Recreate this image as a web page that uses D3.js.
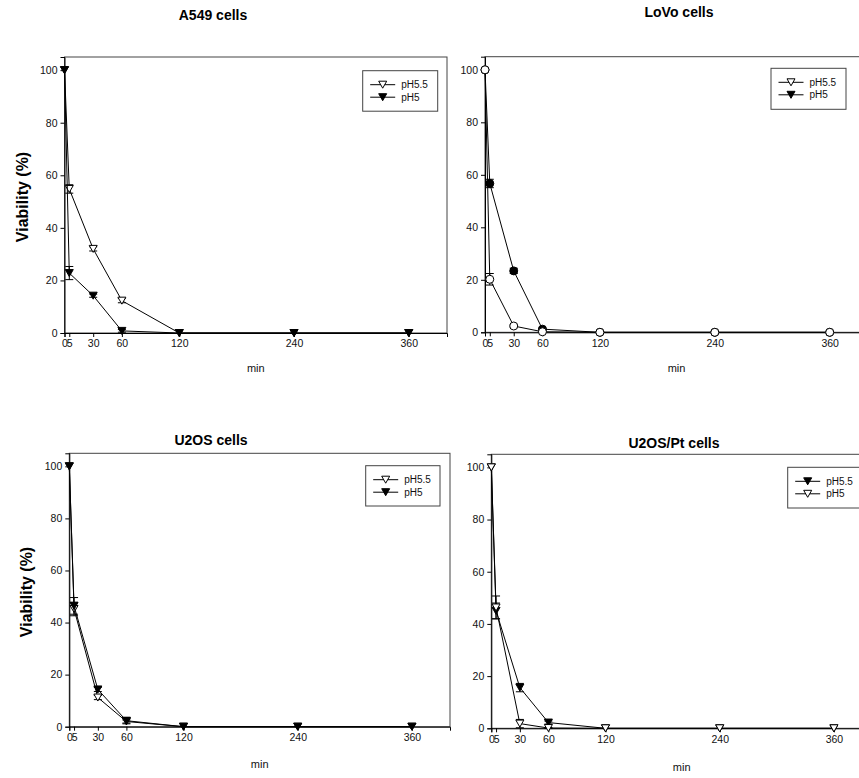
<!DOCTYPE html>
<html>
<head>
<meta charset="utf-8">
<script src="https://cdn.jsdelivr.net/npm/d3@7"></script>
<style>
  body { margin: 0; background: #fff; }
  svg text { font-family: "Liberation Sans", Arial, sans-serif; }
</style>
</head>
<body>
<svg id="chart" width="859" height="778"></svg>
<script>
// time points (min)
var times = [0, 5, 30, 60, 120, 240, 360];
var xTicks = [0, 5, 30, 60, 120, 240, 360];
var yTicks = [0, 20, 40, 60, 80, 100];

// A549
var a549_pH55 = [100, 54.8, 32, 12.3, 0, 0, 0];
var a549_pH55_err = [0, 1.6, 0.8, 0.8, 0, 0, 0];
var a549_pH5 = [100, 22.8, 14.2, 0.8, 0, 0, 0];
var a549_pH5_err = [0, 2.5, 0.6, 0.5, 0, 0, 0];

// LoVo
var lovo_pH55 = [100, 20.2, 2.4, 0.2, 0, 0, 0];
var lovo_pH55_err = [0, 2.2, 0.5, 0.2, 0, 0, 0];
var lovo_pH5 = [100, 56.7, 23.4, 1.2, 0, 0, 0];
var lovo_pH5_err = [0, 1.6, 1.0, 0.4, 0, 0, 0];

// U2OS
var u2os_pH55 = [100, 45.2, 11.2, 2.0, 0, 0, 0];
var u2os_pH55_err = [0, 2.6, 0.8, 0.6, 0, 0, 0];
var u2os_pH5 = [100, 46.4, 14.3, 2.3, 0, 0, 0];
var u2os_pH5_err = [0, 3.2, 0.8, 1.2, 0, 0, 0];

// U2OS/Pt
var pt_pH55 = [100, 45, 15.6, 2.2, 0, 0, 0];
var pt_pH55_err = [0, 3.0, 1.6, 0.6, 0, 0, 0];
var pt_pH5 = [100, 46.3, 1.8, 0.1, 0, 0, 0];
var pt_pH5_err = [0, 4.4, 1.6, 0.2, 0, 0, 0];

var svg = d3.select("#chart");

// panel layout
var panels = [
  {title: "A549 cells", left: 64.5, top: 57, right: 447, bottom: 333, titleX: 213, titleY: 20, ylab: true, minY: 372,
   legend: {x: 362.7, y: 70.7, w: 75, h: 40.5},
   series: [
     {name: "pH5.5", vals: a549_pH55, err: a549_pH55_err, shape: "tri", fill: "#fff"},
     {name: "pH5", vals: a549_pH5, err: a549_pH5_err, shape: "tri", fill: "#000"}
   ]},
  {title: "LoVo cells", left: 485, top: 56.7, right: 868, bottom: 332.3, titleX: 679, titleY: 17, ylab: false, minY: 372,
   legend: {x: 771, y: 68.3, w: 75, h: 41},
   series: [
     {name: "pH5", vals: lovo_pH5, err: lovo_pH5_err, shape: "circle", fill: "#000"},
     {name: "pH5.5", vals: lovo_pH55, err: lovo_pH55_err, shape: "circle", fill: "#fff"}
   ],
   legendItems: [{name: "pH5.5", fill: "#fff"}, {name: "pH5", fill: "#000"}]},
  {title: "U2OS cells", left: 69.3, top: 453.3, right: 450, bottom: 726.7, titleX: 211, titleY: 445, ylab: true, minY: 768,
   legend: {x: 365.7, y: 465.7, w: 74.3, h: 40.3},
   series: [
     {name: "pH5.5", vals: u2os_pH55, err: u2os_pH55_err, shape: "tri", fill: "#fff"},
     {name: "pH5", vals: u2os_pH5, err: u2os_pH5_err, shape: "tri", fill: "#000"}
   ]},
  {title: "U2OS/Pt cells", left: 491.3, top: 454.3, right: 872, bottom: 728.3, titleX: 674, titleY: 448, ylab: false, minY: 771,
   legend: {x: 787.7, y: 467.3, w: 75, h: 40.7},
   series: [
     {name: "pH5.5", vals: pt_pH55, err: pt_pH55_err, shape: "tri", fill: "#000"},
     {name: "pH5", vals: pt_pH5, err: pt_pH5_err, shape: "tri", fill: "#fff"}
   ]}
];

var triPath = "M-4,-3.5L4,-3.5L0,3.5Z";

function drawMarker(g, shape, fill) {
  if (shape === "circle") {
    return g.append("circle").attr("r", 4).style("fill", fill).style("stroke", "#000").style("stroke-width", 1);
  }
  return g.append("path").attr("d", triPath).style("fill", fill).style("stroke", "#000").style("stroke-width", 1);
}

panels.forEach(function(p) {
  var x = d3.scaleLinear().domain([0, 400]).range([p.left, p.right]);
  var y = d3.scaleLinear().domain([0, 105]).range([p.bottom, p.top]);
  var g = svg.append("g");

  // frame
  g.append("rect")
    .attr("x", p.left).attr("y", p.top)
    .attr("width", p.right - p.left).attr("height", p.bottom - p.top)
    .style("fill", "none").style("stroke", "#444").style("stroke-width", 1);

  // axes
  var xa = g.append("g")
    .attr("transform", "translate(0," + p.bottom + ")")
    .call(d3.axisBottom(x).tickValues(xTicks).tickSize(4).tickPadding(3).tickFormat(d3.format("d")));
  var ya = g.append("g")
    .attr("transform", "translate(" + p.left + ",0)")
    .call(d3.axisLeft(y).tickValues(yTicks).tickSize(4).tickPadding(3));
  [xa, ya].forEach(function(a) {
    a.select(".domain").style("stroke", "#000");
    a.selectAll(".tick line").style("stroke", "#000");
    a.selectAll("text").style("font-size", "10.5px").style("fill", "#111")
      .style("font-family", "'Liberation Sans', Arial, sans-serif");
  });

  // series
  p.series.forEach(function(s) {
    var pts = times.map(function(t, i) { return {t: t, v: s.vals[i], e: s.err[i]}; });
    var line = d3.line().x(function(d) { return x(d.t); }).y(function(d) { return y(d.v); });
    g.append("path").datum(pts).attr("d", line)
      .style("fill", "none").style("stroke", "#000").style("stroke-width", 1);

    var eb = g.selectAll(null).data(pts.filter(function(d) { return d.e > 0; })).enter().append("g");
    eb.append("line")
      .attr("x1", function(d) { return x(d.t); }).attr("x2", function(d) { return x(d.t); })
      .attr("y1", function(d) { return y(d.v - d.e); }).attr("y2", function(d) { return y(d.v + d.e); })
      .style("stroke", "#000");
    [-1, 1].forEach(function(sg) {
      eb.append("line")
        .attr("x1", function(d) { return x(d.t) - 4; }).attr("x2", function(d) { return x(d.t) + 4; })
        .attr("y1", function(d) { return y(d.v + sg * d.e); }).attr("y2", function(d) { return y(d.v + sg * d.e); })
        .style("stroke", "#000");
    });

    pts.forEach(function(d) {
      var m = g.append("g").attr("transform", "translate(" + x(d.t) + "," + y(d.v) + ")");
      drawMarker(m, s.shape, s.fill);
    });
  });

  // legend
  var L = p.legend;
  g.append("rect").attr("x", L.x).attr("y", L.y).attr("width", L.w).attr("height", L.h)
    .style("fill", "#fff").style("stroke", "#444").style("stroke-width", 1);
  var items = p.legendItems || p.series.map(function(s) { return {name: s.name, fill: s.fill}; });
  items.forEach(function(it, i) {
    var ly = L.y + 14 + i * 12.5;
    g.append("line").attr("x1", L.x + 7.5).attr("x2", L.x + 32.5).attr("y1", ly).attr("y2", ly)
      .style("stroke", "#000");
    var m = g.append("g").attr("transform", "translate(" + (L.x + 20) + "," + ly + ")");
    drawMarker(m, "tri", it.fill);
    g.append("text").attr("x", L.x + 38.5).attr("y", ly + 3.5).text(it.name)
      .style("font-size", "10px").style("fill", "#111");
  });

  // titles
  g.append("text").attr("x", p.titleX).attr("y", p.titleY)
    .attr("text-anchor", "middle").text(p.title)
    .style("font-size", "14px").style("font-weight", "bold");
  g.append("text").attr("x", (p.left + p.right) / 2).attr("y", p.minY)
    .attr("text-anchor", "middle").text("min")
    .style("font-size", "11px").style("fill", "#111");
  if (p.ylab) {
    var cy = (p.top + p.bottom) / 2 + 2;
    g.append("text")
      .attr("transform", "translate(" + (p.left - 37) + "," + cy + ") rotate(-90)")
      .attr("text-anchor", "middle").text("Viability (%)")
      .style("font-size", "16px").style("font-weight", "bold");
  }
});
</script>
</body>
</html>
